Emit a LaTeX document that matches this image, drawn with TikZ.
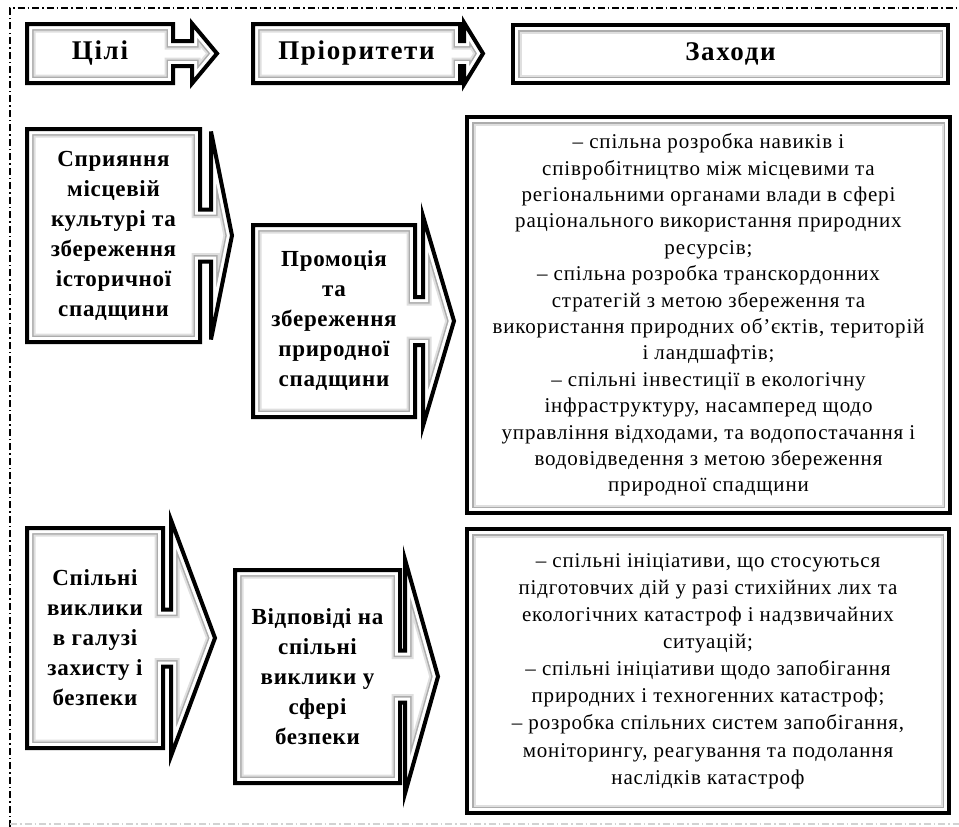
\documentclass[tikz,border=0pt]{standalone}
\usepackage{fontspec}
\setmainfont{Liberation Serif}
\usetikzlibrary{calc}

% контур: блок зi стрiлкою праворуч
\newcommand{\arrowbox}[5]{(#1.north west) -- (#1.north east) -- ($(#1.east)+(0,-#2)$) -- ($(#1.east)+(#3,-#2)$) -- ($(#1.east)+(#3,-#4)$) -- ($(#1.east)+(#3+#5,0)$) -- ($(#1.east)+(#3,#4)$) -- ($(#1.east)+(#3,#2)$) -- ($(#1.east)+(0,#2)$) -- (#1.south east) -- (#1.south west) -- cycle}
\newcommand{\plainbox}[1]{(#1.north west) rectangle (#1.south east)}
% рамка: чорний край i сiра смуга всередину
\newcommand{\frameit}[1]{%
  \begin{scope}
    \clip #1;
    \draw[line width=17pt, gray!25] #1;
    \draw[line width=13pt, gray!65] #1;
    \draw[line width=10pt, white] #1;
  \end{scope}
  \draw[line width=4pt] #1;}

\begin{document}
\begin{tikzpicture}[x=1pt, y=-1pt,
  blk/.style={inner sep=0pt, outer sep=0pt, align=center},
  head/.style={blk, font=\bfseries\fontsize{27}{30}\selectfont\addfontfeature{LetterSpace=6}},
  aim/.style={blk, font=\bfseries\fontsize{23}{30}\selectfont\addfontfeature{LetterSpace=3}},
  measure/.style={blk, font=\fontsize{21}{26.4}\selectfont\addfontfeature{LetterSpace=4}},
  border/.style={line width=1.3pt, dash pattern=on 7pt off 3pt on 1.5pt off 3pt}]
  \useasboundingbox (0,0) rectangle (959,827);

  % Рамка
  \draw[border] (10,827) -- (10,8) -- (959,8);
  \draw[border, gray!35] (10,824) -- (959,824);

  % Заголовки
  \node[head, minimum width=146, minimum height=59] (hgoal) at (100,53.5) {Цілі};
  \node[head, minimum width=207, minimum height=59] (hprio) at (356.5,53.5) {Пріоритети};
  \node[head, minimum width=435, minimum height=58] (hmeas) at (730.5,54) {Заходи};
  \frameit{\arrowbox{hgoal}{12.5}{19}{30}{25}}
  \frameit{\arrowbox{hprio}{12.5}{4}{31}{19}}
  \frameit{\plainbox{hmeas}}

  % Перший ряд
  \node[aim, minimum width=173, minimum height=213] (goal1) at (113.5,235.5)
    {Сприяння\\місцевій\\культурі та\\збереження\\історичної\\спадщини};
  \node[aim, minimum width=162, minimum height=192] (prio1) at (334,321)
    {Промоція\\та\\збереження\\природної\\спадщини};
  \node[measure, minimum width=483, minimum height=396] (meas1) at (708.5,315)
    {– спільна розробка навиків і\\
     співробітництво між місцевими та\\
     регіональними органами влади в сфері\\
     раціонального використання природних\\
     ресурсів;\\
     – спільна розробка транскордонних\\
     стратегій з метою збереження та\\
     використання природних об’єктів, територій\\
     і ландшафтів;\\
     – спільні інвестиції в екологічну\\
     інфраструктуру, насамперед щодо\\
     управління відходами, та водопостачання і\\
     водовідведення з метою збереження\\
     природної спадщини};
  \frameit{\arrowbox{goal1}{26}{11}{104}{21}}
  \frameit{\arrowbox{prio1}{24}{8}{105}{31}}
  \frameit{\plainbox{meas1}}

  % Другий ряд
  \node[aim, minimum width=136, minimum height=220] (goal2) at (95,638)
    {Спільні\\виклики\\в галузі\\захисту і\\безпеки};
  \node[aim, minimum width=165, minimum height=213] (prio2) at (317.5,676.5)
    {Відповіді на\\спільні\\виклики у\\сфері\\безпеки};
  \node[measure, font=\fontsize{21}{27.1}\selectfont\addfontfeature{LetterSpace=4},
        minimum width=482, minimum height=284] (meas2) at (708,671)
    {– спільні ініціативи, що стосуються\\
     підготовчих дій у разі стихійних лих та\\
     екологічних катастроф і надзвичайних\\
     ситуацій;\\
     – спільні ініціативи щодо запобігання\\
     природних і техногенних катастроф;\\
     – розробка спільних систем запобігання,\\
     моніторингу, реагування та подолання\\
     наслідків катастроф};
  \frameit{\arrowbox{goal2}{28.5}{8}{118}{44}}
  \frameit{\arrowbox{prio2}{26}{5}{117}{33}}
  \frameit{\plainbox{meas2}}
\end{tikzpicture}
\end{document}
